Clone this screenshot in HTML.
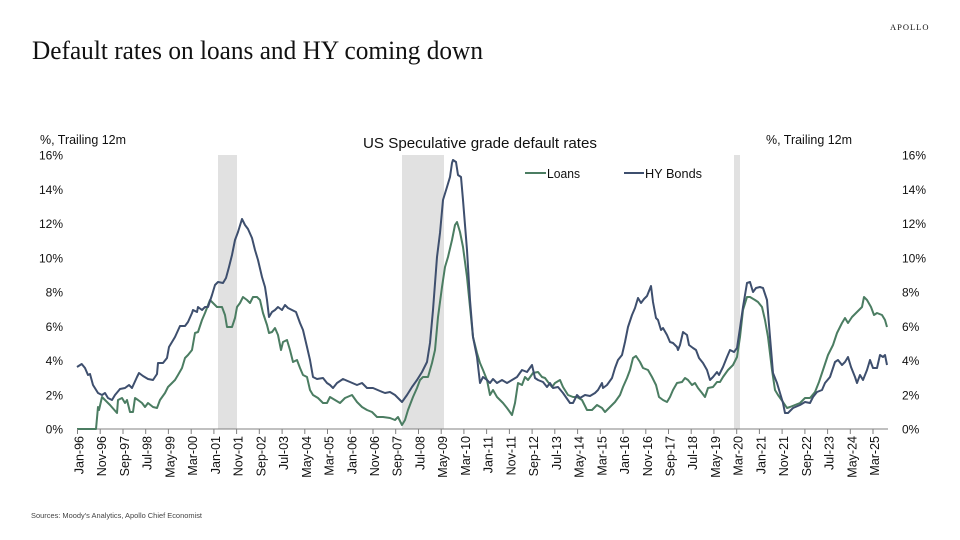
<!DOCTYPE html>
<html><head><meta charset="utf-8"><style>
html,body{margin:0;padding:0;background:#fff;}
svg{display:block;}
</style></head><body>
<svg width="960" height="540" viewBox="0 0 960 540" xmlns="http://www.w3.org/2000/svg">
<rect width="960" height="540" fill="#fff"/>
<text x="32" y="59" font-family="Liberation Serif, serif" font-size="26" fill="#111" textLength="451" lengthAdjust="spacingAndGlyphs">Default rates on loans and HY coming down</text>
<text x="890" y="30" font-family="Liberation Serif, serif" font-size="8.5" fill="#111" textLength="40" lengthAdjust="spacing" letter-spacing="1.5">APOLLO</text>

<!-- recession shading -->
<rect x="218" y="155" width="19" height="274" fill="#e1e1e1"/>
<rect x="402" y="155" width="42" height="274" fill="#e1e1e1"/>
<rect x="734" y="155" width="6" height="274" fill="#e1e1e1"/>

<g font-family="Liberation Sans, sans-serif" fill="#111">
<text x="480" y="148" font-size="15" text-anchor="middle" textLength="234" lengthAdjust="spacingAndGlyphs">US Speculative grade default rates</text>
<text x="40" y="144" font-size="13" textLength="86" lengthAdjust="spacingAndGlyphs">%, Trailing 12m</text>
<text x="766" y="144" font-size="13" textLength="86" lengthAdjust="spacingAndGlyphs">%, Trailing 12m</text>
<line x1="525" y1="173" x2="546" y2="173" stroke="#4b7d62" stroke-width="2"/>
<text x="547" y="178" font-size="13" textLength="33" lengthAdjust="spacingAndGlyphs">Loans</text>
<line x1="624" y1="173" x2="644" y2="173" stroke="#3e4f6e" stroke-width="2"/>
<text x="645" y="178" font-size="13" textLength="57" lengthAdjust="spacingAndGlyphs">HY Bonds</text>

<g font-size="12" text-anchor="end">
<text x="63" y="159.5">16%</text>
<text x="63" y="193.8">14%</text>
<text x="63" y="228">12%</text>
<text x="63" y="262.3">10%</text>
<text x="63" y="296.5">8%</text>
<text x="63" y="330.8">6%</text>
<text x="63" y="365">4%</text>
<text x="63" y="399.3">2%</text>
<text x="63" y="433.5">0%</text>
</g>
<g font-size="12" text-anchor="start">
<text x="902" y="159.5">16%</text>
<text x="902" y="193.8">14%</text>
<text x="902" y="228">12%</text>
<text x="902" y="262.3">10%</text>
<text x="902" y="296.5">8%</text>
<text x="902" y="330.8">6%</text>
<text x="902" y="365">4%</text>
<text x="902" y="399.3">2%</text>
<text x="902" y="433.5">0%</text>
</g>

<text x="31" y="518" font-size="7.5" fill="#444" textLength="171" lengthAdjust="spacingAndGlyphs">Sources: Moody's Analytics, Apollo Chief Economist</text>
</g>

<!-- x axis -->
<line x1="77" y1="429" x2="888" y2="429" stroke="#808080" stroke-width="1"/>

<!-- series -->
<polyline fill="none" stroke="#4b7d62" stroke-width="2" stroke-linejoin="round" points="77,429 96,429 98,407 99,410 102,397 105,400 110,405 117,413 118,400 122,398 125,403 127,400 130,412 133,412 135,398 138,400 142,403 145,407 148,403 153,407 157,408 160,400 165,393 168,387 172,383 175,380 178,375 182,368 185,358 188,355 192,350 195,333 198,332 202,320 205,313 210,300 213,303 217,307 222,307 225,315 227,327 232,327 235,318 237,307 240,303 243,297 247,300 250,303 253,297 257,297 260,300 263,313 267,325 269,333 272,332 275,328 278,335 281,350 283,342 287,340 290,350 293,362 297,360 300,368 303,375 307,377 310,390 313,395 318,398 323,403 327,403 330,397 335,400 340,403 345,398 352,395 357,402 362,407 367,410 372,412 377,417 383,417 390,418 395,420 398,417 402,425 405,420 408,410 413,397 417,388 420,380 423,377 428,377 432,363 435,350 438,317 442,287 445,267 448,257 452,240 455,225 457,222 460,232 463,247 467,277 470,307 473,337 477,353 480,363 483,370 487,380 490,395 493,390 497,397 500,400 503,403 507,408 512,415 515,403 518,383 522,385 525,377 528,380 533,373 538,372 542,377 545,378 548,382 552,387 555,383 560,380 563,387 568,395 573,397 577,397 582,400 587,410 592,410 597,405 602,408 605,412 610,407 615,402 620,395 623,387 627,378 630,370 633,358 636,356 640,362 643,368 648,370 652,377 656,385 659,397 663,400 667,402 670,397 673,390 677,383 682,382 685,378 688,380 692,385 695,383 698,388 702,393 705,397 708,388 713,387 717,382 720,382 723,377 728,370 733,365 737,357 740,337 743,310 747,297 750,297 755,300 758,302 762,307 765,320 768,337 772,370 775,390 778,395 783,402 787,408 790,407 795,405 800,403 805,398 810,398 815,392 819,382 823,370 828,355 833,345 837,333 842,323 845,318 848,323 852,317 857,312 862,307 864,297 867,300 871,307 874,315 877,313 882,315 885,320 887,327"/>
<polyline fill="none" stroke="#3e4f6e" stroke-width="2" stroke-linejoin="round" points="77,367 81.7,364 85,368 88,375 90,374 93,385 98,393 102,395 105,393 108,398 112,400 115,395 120,389 125,388 129,385 132,388 137,377 139,373 143,376 148,379 153,380 157,374 158,363 163,363 167,358 169,347 175,337 180,326 185,326 188,322 192,313 193,310 197,312 198,307 202,310 205,307 208,307 212,295 215,285 218,282 223,283 226,278 229,267 232,255 235,240 238,232 242,219 245,225 248,229 252,238 255,250 258,260 262,277 265,287 267,300 269,317 272,312 275,310 278,307 282,310 285,305 288,308 292,310 296,312 300,323 303,330 307,347 310,360 313,377 317,379 323,378 327,383 330,385 333,388 337,383 343,379 350,382 357,385 362,383 367,388 373,388 380,391 385,393 390,392 395,395 402,402 407,395 412,387 417,380 422,372 427,362 430,343 433,310 437,257 440,233 443,200 447,187 450,177 452,163 453,160 456,162 458,175 461,177 463,200 467,250 470,300 473,337 477,357 480,383 483,377 487,380 490,383 493,379 497,383 502,380 507,383 512,380 517,377 522,370 527,372 532,365 535,378 538,380 543,382 547,387 550,383 553,388 558,387 563,393 570,403 573,403 577,395 580,398 585,395 590,396 595,393 598,390 602,383 603,388 607,385 612,378 615,368 618,360 622,355 625,342 628,327 632,315 635,308 638,298 641,303 644,299 647,296 651,286 653,302 656,318 658,320 661,330 663,328 667,335 670,342 673,343 677,347 678,350 680,345 683,332 687,335 689,345 693,348 696,350 699,358 703,363 707,370 710,380 713,377 717,372 719,375 723,367 727,357 730,350 734,352 737,348 740,328 743,307 747,283 750,282 753,292 756,288 760,287 763,288 767,300 770,337 773,373 777,383 780,393 783,403 785,413 788,413 793,408 800,405 805,402 810,403 813,397 817,392 822,390 825,383 830,377 835,362 838,360 842,365 845,362 848,357 851,367 855,377 857,383 860,375 863,380 867,370 870,360 873,368 877,368 880,355 883,357 885,355 887,365"/>

<g stroke="#808080" stroke-width="1">
<line x1="77.5" y1="429" x2="77.5" y2="434"/><line x1="100.2" y1="429" x2="100.2" y2="434"/><line x1="123" y1="429" x2="123" y2="434"/><line x1="145.7" y1="429" x2="145.7" y2="434"/><line x1="168.4" y1="429" x2="168.4" y2="434"/><line x1="191.2" y1="429" x2="191.2" y2="434"/><line x1="213.9" y1="429" x2="213.9" y2="434"/><line x1="236.6" y1="429" x2="236.6" y2="434"/><line x1="259.3" y1="429" x2="259.3" y2="434"/><line x1="282.1" y1="429" x2="282.1" y2="434"/><line x1="304.8" y1="429" x2="304.8" y2="434"/><line x1="327.5" y1="429" x2="327.5" y2="434"/><line x1="350.3" y1="429" x2="350.3" y2="434"/><line x1="373" y1="429" x2="373" y2="434"/><line x1="395.7" y1="429" x2="395.7" y2="434"/><line x1="418.5" y1="429" x2="418.5" y2="434"/><line x1="441.2" y1="429" x2="441.2" y2="434"/><line x1="463.9" y1="429" x2="463.9" y2="434"/><line x1="486.6" y1="429" x2="486.6" y2="434"/><line x1="509.4" y1="429" x2="509.4" y2="434"/><line x1="532.1" y1="429" x2="532.1" y2="434"/><line x1="554.8" y1="429" x2="554.8" y2="434"/><line x1="577.6" y1="429" x2="577.6" y2="434"/><line x1="600.3" y1="429" x2="600.3" y2="434"/><line x1="623" y1="429" x2="623" y2="434"/><line x1="645.8" y1="429" x2="645.8" y2="434"/><line x1="668.5" y1="429" x2="668.5" y2="434"/><line x1="691.2" y1="429" x2="691.2" y2="434"/><line x1="713.9" y1="429" x2="713.9" y2="434"/><line x1="736.7" y1="429" x2="736.7" y2="434"/><line x1="759.4" y1="429" x2="759.4" y2="434"/><line x1="782.1" y1="429" x2="782.1" y2="434"/><line x1="804.9" y1="429" x2="804.9" y2="434"/><line x1="827.6" y1="429" x2="827.6" y2="434"/><line x1="850.3" y1="429" x2="850.3" y2="434"/><line x1="873" y1="429" x2="873" y2="434"/>
</g>
<g font-family="Liberation Sans, sans-serif" font-size="12.5" fill="#111" text-anchor="end">
<text transform="translate(83.5,436) rotate(-90)">Jan-96</text>
<text transform="translate(106.2,436) rotate(-90)">Nov-96</text>
<text transform="translate(129,436) rotate(-90)">Sep-97</text>
<text transform="translate(151.7,436) rotate(-90)">Jul-98</text>
<text transform="translate(174.4,436) rotate(-90)">May-99</text>
<text transform="translate(197.2,436) rotate(-90)">Mar-00</text>
<text transform="translate(219.9,436) rotate(-90)">Jan-01</text>
<text transform="translate(242.6,436) rotate(-90)">Nov-01</text>
<text transform="translate(265.3,436) rotate(-90)">Sep-02</text>
<text transform="translate(288.1,436) rotate(-90)">Jul-03</text>
<text transform="translate(310.8,436) rotate(-90)">May-04</text>
<text transform="translate(333.5,436) rotate(-90)">Mar-05</text>
<text transform="translate(356.3,436) rotate(-90)">Jan-06</text>
<text transform="translate(379,436) rotate(-90)">Nov-06</text>
<text transform="translate(401.7,436) rotate(-90)">Sep-07</text>
<text transform="translate(424.5,436) rotate(-90)">Jul-08</text>
<text transform="translate(447.2,436) rotate(-90)">May-09</text>
<text transform="translate(469.9,436) rotate(-90)">Mar-10</text>
<text transform="translate(492.6,436) rotate(-90)">Jan-11</text>
<text transform="translate(515.4,436) rotate(-90)">Nov-11</text>
<text transform="translate(538.1,436) rotate(-90)">Sep-12</text>
<text transform="translate(560.8,436) rotate(-90)">Jul-13</text>
<text transform="translate(583.6,436) rotate(-90)">May-14</text>
<text transform="translate(606.3,436) rotate(-90)">Mar-15</text>
<text transform="translate(629,436) rotate(-90)">Jan-16</text>
<text transform="translate(651.8,436) rotate(-90)">Nov-16</text>
<text transform="translate(674.5,436) rotate(-90)">Sep-17</text>
<text transform="translate(697.2,436) rotate(-90)">Jul-18</text>
<text transform="translate(719.9,436) rotate(-90)">May-19</text>
<text transform="translate(742.7,436) rotate(-90)">Mar-20</text>
<text transform="translate(765.4,436) rotate(-90)">Jan-21</text>
<text transform="translate(788.1,436) rotate(-90)">Nov-21</text>
<text transform="translate(810.9,436) rotate(-90)">Sep-22</text>
<text transform="translate(833.6,436) rotate(-90)">Jul-23</text>
<text transform="translate(856.3,436) rotate(-90)">May-24</text>
<text transform="translate(879,436) rotate(-90)">Mar-25</text>
</g>
</svg>
</body></html>
